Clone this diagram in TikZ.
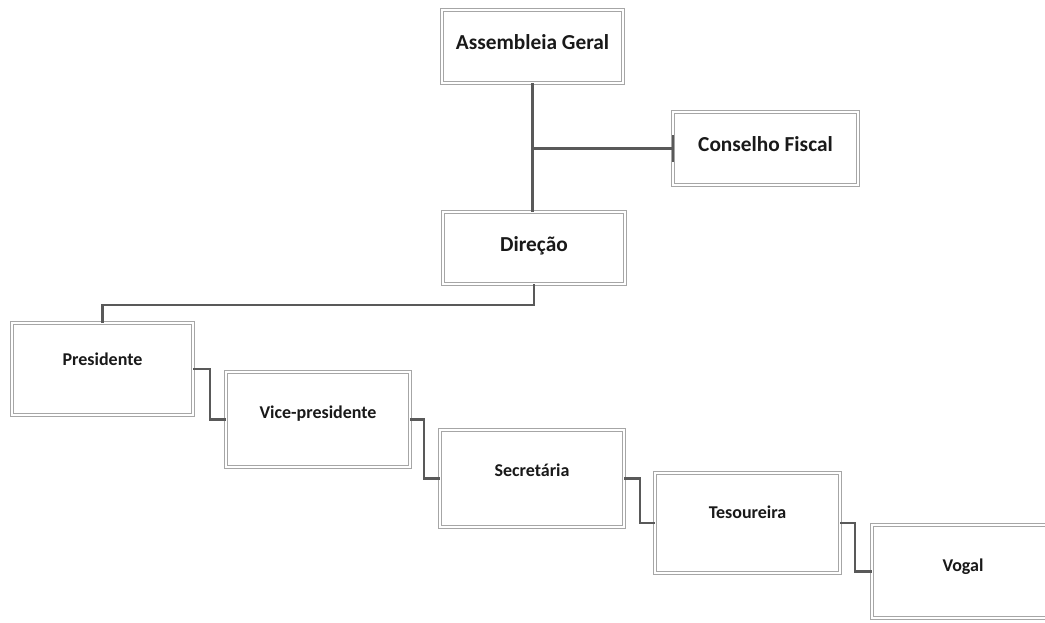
\documentclass[tikz,border=0pt]{standalone}
\usepackage{fontspec}
\setmainfont{Carlito}

\tikzset{every picture/.style={line width=0.75pt}}
\tikzset{
  orgbox/.style={draw=black!35, double=white, double distance=1.8pt, line width=0.55pt,
    fill=white, inner sep=0pt, anchor=base, text=black!90, font=\bfseries},
  bigbox/.style={orgbox, font=\fontsize{16}{19}\selectfont\bfseries},
  smallbox/.style={orgbox, font=\fontsize{13.5}{16}\selectfont\bfseries},
  orgline/.style={draw=black!65, line width=1.6pt}
}

\begin{document}
\begin{tikzpicture}[x=0.75pt,y=0.75pt,yscale=-1,xscale=1]
	\useasboundingbox (0,0) rectangle (1045,623); %set diagram to 1045 x 623

	%Shape: Rectangle [id:ag] 
	\node [bigbox, minimum width=135.75pt, text height=30pt, text depth=24.75pt] (ag) at (532.5,50) {Assembleia Geral};
	%Shape: Rectangle [id:cf] 
	\node [bigbox, minimum width=138.75pt, text height=30pt, text depth=24.75pt] (cf) at (765.5,152) {Conselho Fiscal};
	%Shape: Rectangle [id:dir] 
	\node [bigbox, minimum width=136.5pt, text height=30pt, text depth=24pt] (dir) at (534,252) {Direção};
	%Shape: Rectangle [id:pres] 
	\node [smallbox, minimum width=135.75pt, text height=31.5pt, text depth=37.5pt] (pres) at (102.5,365) {Presidente};
	%Shape: Rectangle [id:vp] 
	\node [smallbox, minimum width=138pt, text height=34.5pt, text depth=36.75pt] (vp) at (318,418) {Vice-presidente};
	%Shape: Rectangle [id:sec] 
	\node [smallbox, minimum width=138pt, text height=34.5pt, text depth=38.25pt] (sec) at (532,476) {Secretária};
	%Shape: Rectangle [id:tes] 
	\node [smallbox, minimum width=138.75pt, text height=33.75pt, text depth=41.25pt] (tes) at (747.5,518) {Tesoureira};
	%Shape: Rectangle [id:vog] 
	\node [smallbox, minimum width=136.5pt, text height=34.5pt, text depth=35.25pt] (vog) at (963,571) {Vogal};

	%Straight Lines [id:ag-dir] 
	\draw [orgline] (ag.south) -- (ag.south |- dir.north) ;
	%Straight Lines [id:cf] 
	\draw [orgline] (ag.south |- cf.west) -- (cf.west) ;
	\draw [orgline] (cf.west) ++(0,-13) -- ++(0,27) ;
	%Elbow Lines [id:dir-pres] 
	\draw [orgline] (dir.south) -- ++(0,21) -| (pres.north) ;
	%Elbow Lines [id:pres-vp] 
	\draw [orgline] (pres.east) -- ++(17,0) |- (vp.west) ;
	%Elbow Lines [id:vp-sec] 
	\draw [orgline] (vp.east) -- ++(14,0) |- (sec.west) ;
	%Elbow Lines [id:sec-tes] 
	\draw [orgline] (sec.east) -- ++(16,0) |- (tes.west) ;
	%Elbow Lines [id:tes-vog] 
	\draw [orgline] (tes.east) -- ++(15,0) |- (vog.west) ;

\end{tikzpicture}
\end{document}
